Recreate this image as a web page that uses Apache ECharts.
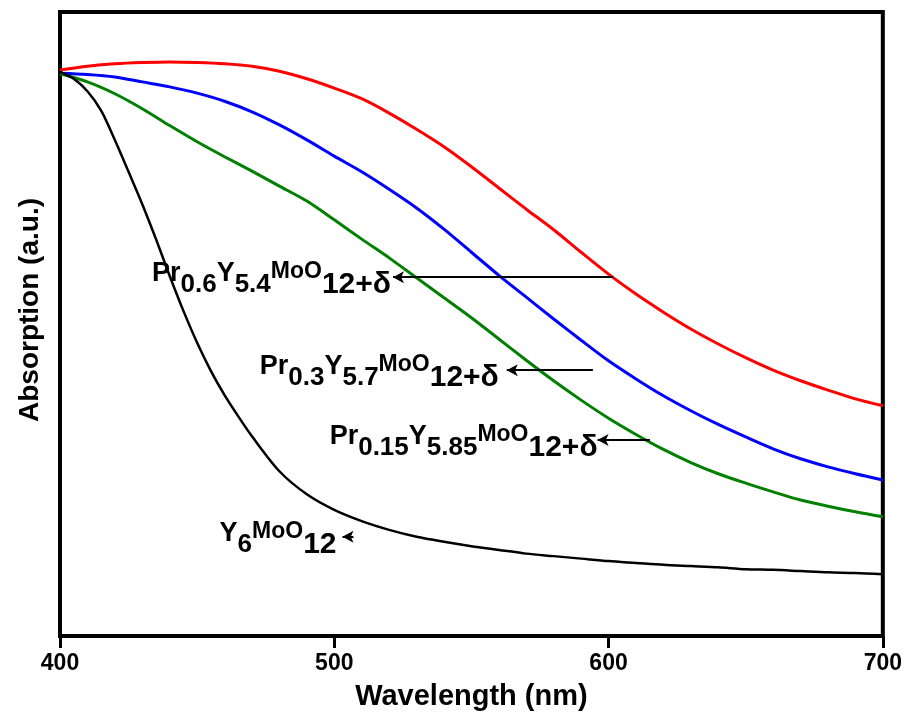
<!DOCTYPE html>
<html>
<head>
<meta charset="utf-8">
<script src="https://cdn.jsdelivr.net/npm/echarts@6/dist/echarts.min.js"></script>
<style>
  html, body { margin: 0; padding: 0; background: #fff; }
  #chart { width: 905px; height: 719px; }
</style>
</head>
<body>
<div id="chart"></div>
<script>
// UV-vis absorption spectra of Pr-doped Y6MoO12 powders
const wavelength = [400, 410, 420, 430, 440, 450, 460, 470, 480, 490, 500, 510, 520, 530, 540, 550,
  560, 570, 580, 590, 600, 610, 620, 630, 640, 650, 660, 670, 680, 690, 700];

const absPr060 = [0.907, 0.913, 0.917, 0.919, 0.920, 0.919, 0.917, 0.913, 0.905, 0.893, 0.878, 0.861,
  0.838, 0.812, 0.784, 0.752, 0.718, 0.684, 0.651, 0.615, 0.580, 0.548, 0.519, 0.492, 0.468, 0.446,
  0.426, 0.409, 0.394, 0.380, 0.369];

const absPr030 = [0.902, 0.900, 0.896, 0.888, 0.880, 0.870, 0.857, 0.840, 0.819, 0.795, 0.769, 0.744,
  0.716, 0.686, 0.652, 0.615, 0.578, 0.543, 0.508, 0.474, 0.441, 0.412, 0.385, 0.361, 0.339, 0.319,
  0.300, 0.284, 0.271, 0.260, 0.250];

const absPr015 = [0.901, 0.888, 0.869, 0.845, 0.818, 0.792, 0.768, 0.745, 0.721, 0.697, 0.667, 0.636,
  0.606, 0.574, 0.542, 0.510, 0.476, 0.442, 0.409, 0.378, 0.349, 0.323, 0.299, 0.278, 0.260, 0.245,
  0.231, 0.218, 0.208, 0.199, 0.191];

// the undoped host falls off steeply, so it is sampled more finely near the edge
const wavelengthY6 = [400, 405, 410, 415, 420, 425, 430, 435, 440, 445, 450, 455, 460, 465, 470, 480,
  490, 500, 510, 520, 530, 540, 550, 560, 570, 580, 590, 600, 610, 620, 630, 640, 650, 660, 670, 680,
  690, 700];
const absY6 = [0.904, 0.893, 0.873, 0.842, 0.795, 0.744, 0.692, 0.636, 0.577, 0.521, 0.470, 0.425,
  0.386, 0.352, 0.320, 0.264, 0.227, 0.202, 0.184, 0.170, 0.159, 0.151, 0.144, 0.138, 0.132, 0.128,
  0.124, 0.120, 0.117, 0.114, 0.112, 0.110, 0.107, 0.106, 0.104, 0.102, 0.101, 0.099];

const xTicks = [400, 500, 600, 700];

// annotation arrows: [tip wavelength, tail wavelength, absorption level]
const arrowPr060 = [521.4, 601.6, 0.575];
const arrowPr030 = [562.9, 594.3, 0.426];
const arrowPr015 = [596.0, 615.1, 0.314];
const arrowY6 = [503.0, 507.0, 0.159];

const pairs = (xs, ys) => xs.map((x, i) => [x, ys[i]]);

const FONT = '"Liberation Sans", Arial, sans-serif';

const richPr = {
  el:  { fontFamily: FONT, fontWeight: 'bold', fontSize: 27, color: '#000', lineHeight: 26, verticalAlign: 'top' },
  mo:  { fontFamily: FONT, fontWeight: 'bold', fontSize: 23, color: '#000', lineHeight: 26, verticalAlign: 'top' },
  sub: { fontFamily: FONT, fontWeight: 'bold', fontSize: 26, color: '#000', lineHeight: 26, verticalAlign: 'top', padding: [12, 0, 0, 0] },
  big: { fontFamily: FONT, fontWeight: 'bold', fontSize: 30, color: '#000', lineHeight: 28, verticalAlign: 'top', padding: [10, 0, 0, 0] }
};

function arrow(a, text, dist) {
  return {
    silent: true,
    animation: false,
    symbol: ['arrow', 'none'],
    symbolSize: [9, 11],
    lineStyle: { color: '#000', width: 2, type: 'solid' },
    label: { show: true, position: 'start', distance: dist, formatter: text, rich: richPr, offset: [0, -3] },
    emphasis: { disabled: true },
    data: [[{ coord: [a[0], a[2]] }, { coord: [a[1], a[2]] }]]
  };
}

function spectrum(name, data, color, width, mark) {
  return {
    name: name,
    type: 'line',
    data: data,
    showSymbol: false,
    smooth: 0.3,
    lineStyle: { color: color, width: width },
    itemStyle: { color: color },
    animation: false,
    z: 3,
    markLine: mark
  };
}

const chart = echarts.init(document.getElementById('chart'), null, { renderer: 'canvas' });

chart.setOption({
  backgroundColor: '#fff',
  animation: false,
  grid: {
    left: 60, right: 22, top: 12, bottom: 83,
    show: true, borderColor: '#000', borderWidth: 4, backgroundColor: 'transparent'
  },
  xAxis: {
    type: 'value',
    min: xTicks[0],
    max: xTicks[xTicks.length - 1],
    interval: 100,
    name: 'Wavelength (nm)',
    nameLocation: 'middle',
    nameGap: 46,
    nameTextStyle: { fontFamily: FONT, fontWeight: 'bold', fontSize: 29, color: '#000' },
    axisLine: { show: false },
    axisTick: { show: true, inside: false, length: 12, lineStyle: { color: '#000', width: 3 } },
    axisLabel: { fontFamily: FONT, fontWeight: 'bold', fontSize: 23, color: '#000', margin: 16 },
    splitLine: { show: false }
  },
  yAxis: {
    type: 'value',
    min: 0,
    max: 1,
    name: 'Absorption (a.u.)',
    nameLocation: 'middle',
    nameGap: 16,
    nameTextStyle: { fontFamily: FONT, fontWeight: 'bold', fontSize: 28, color: '#000', padding: [0, 0, 0, 28] },
    axisLine: { show: false },
    axisTick: { show: false },
    axisLabel: { show: false },
    splitLine: { show: false }
  },
  series: [
    spectrum('Pr0.6Y5.4MoO12+δ', pairs(wavelength, absPr060), '#ff0000', 3,
      arrow(arrowPr060, '{el|Pr}{sub|0.6}{el|Y}{sub|5.4}{mo|MoO}{big|12+δ}', 2)),
    spectrum('Pr0.3Y5.7MoO12+δ', pairs(wavelength, absPr030), '#0000ff', 3,
      arrow(arrowPr030, '{el|Pr}{sub|0.3}{el|Y}{sub|5.7}{mo|MoO}{big|12+δ}', 8)),
    spectrum('Pr0.15Y5.85MoO12+δ', pairs(wavelength, absPr015), '#008000', 3,
      arrow(arrowPr015, '{el|Pr}{sub|0.15}{el|Y}{sub|5.85}{mo|MoO}{big|12+δ}', 0)),
    spectrum('Y6MoO12', pairs(wavelengthY6, absY6), '#000000', 2.5,
      arrow(arrowY6, '{el|Y}{sub|6}{mo|MoO}{big|12}', 6))
  ]
});
</script>
</body>
</html>
